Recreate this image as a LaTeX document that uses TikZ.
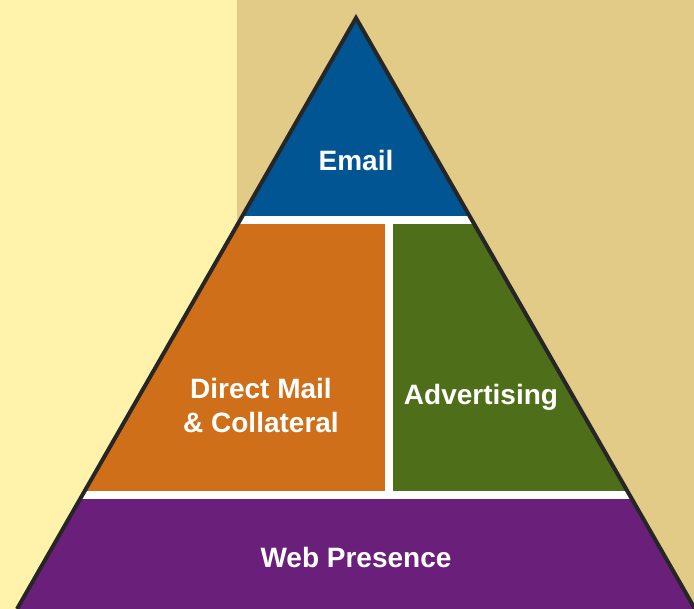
\documentclass[tikz,border=0pt]{standalone}
\usepackage{fontspec}
\setmainfont{Liberation Sans}
\usetikzlibrary{calc}
\definecolor{PyramidBlue}{HTML}{005592}
\definecolor{PyramidOrange}{HTML}{CF6F19}
\definecolor{PyramidGreen}{HTML}{4F6E1A}
\definecolor{PyramidPurple}{HTML}{6A207B}
\definecolor{PaleYellow}{HTML}{FFF2AA}
\definecolor{PaleTan}{HTML}{E2CB86}

\tikzset{
  tier/.style={text=white,font=\bfseries\fontsize{28}{34}\selectfont,align=center}
}

\begin{document}
\begin{tikzpicture}[x=1pt,y=-1pt,line join=miter]
  \useasboundingbox (0,0) rectangle (694,609);
  % backdrop
  \fill[PaleYellow] (0,0) rectangle (237,609);
  \fill[PaleTan] (237,0) rectangle (694,609);
  \coordinate (T) at (356,18); \coordinate (L) at (17,609); \coordinate (R) at (695,609);
  \begin{scope}
    \clip (T)--(L)--(R)--cycle;
    \fill[white] (0,0) rectangle (694,609);
    \fill[PyramidBlue] (0,0) rectangle (694,216);
    \fill[PyramidOrange] (0,224) rectangle (385,491);
    \fill[PyramidGreen] (393,224) rectangle (694,491);
    \fill[PyramidPurple] (0,499) rectangle (694,609);
  \end{scope}
  \draw[black!85,line width=4pt] (L)--(T)--(R);
  \node[tier] (email) at (356,160) {Email};
  \node[tier] (direct) at (261,405) {Direct Mail\\\& Collateral};
  \node[tier] (advert) at (481,397) {Advertising};
  \node[tier] (web) at (356,557) {Web Presence};
\end{tikzpicture}
\end{document}
